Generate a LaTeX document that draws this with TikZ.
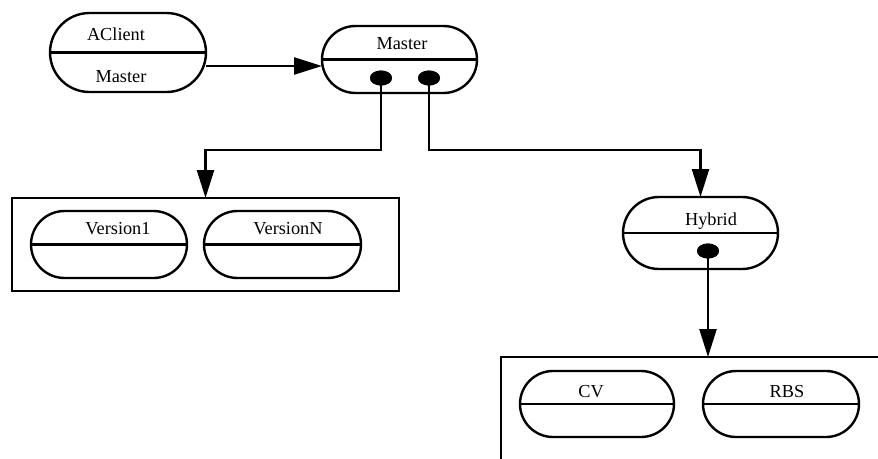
\documentclass[tikz,border=0pt]{standalone}
\usepackage{fontspec}
\setmainfont{Liberation Serif}
\usetikzlibrary{shapes.misc,shapes.geometric,arrows.meta}
\begin{document}
\begin{tikzpicture}[x=1pt,y=-1pt,
  capsule/.style={rounded rectangle, draw, line width=2.4pt, inner sep=0pt, outer sep=0pt},
  lbl/.style={anchor=base, inner sep=0pt, font=\fontsize{18.3}{21}\selectfont},
  port/.style={ellipse, fill=black, inner sep=0pt, outer sep=0pt, minimum width=22pt, minimum height=15pt},
  frame/.style={draw, line width=2.6pt, inner sep=0pt, outer sep=0pt},
  conn/.style={line width=2.4pt, -{Triangle[length=28pt,width=17pt]}},
]
\clip (0,0) rectangle (878,458);

% capsules (upper half holds the name)
\node[capsule, minimum width=156pt, minimum height=79pt] (aclient) at (128,52.5) {};
\node[capsule, minimum width=155pt, minimum height=67pt] (master) at (399.5,59.5) {};
\node[capsule, minimum width=156pt, minimum height=67pt] (v1) at (109,244.5) {};
\node[capsule, minimum width=157pt, minimum height=67pt] (vn) at (282.5,244.5) {};
\node[capsule, minimum width=155pt, minimum height=72pt] (hybrid) at (700.5,233) {};
\node[capsule, minimum width=154pt, minimum height=66pt] (cv) at (597,404) {};
\node[capsule, minimum width=156pt, minimum height=66pt] (rbs) at (781,404) {};
\foreach \n in {aclient,master,v1,vn,hybrid,cv,rbs}
  \draw[line width=2.4pt] (\n.west) -- (\n.east);

% labels
\node[lbl] (aclient-t) at (116,40) {AClient};
\node[lbl] (aclient-b) at (121,82) {Master};
\node[lbl] (master-t) at (402,49) {Master};
\node[lbl] (v1-t) at (118,234) {Version1};
\node[lbl] (vn-t) at (288,234) {VersionN};
\node[lbl] (hybrid-t) at (711,225) {Hybrid};
\node[lbl] (cv-t) at (591,397) {CV};
\node[lbl] (rbs-t) at (787,397) {RBS};

% group frames
\node[frame, minimum width=387pt, minimum height=93pt] (lbox) at (205.5,244.5) {};
\node[frame, minimum width=389pt, minimum height=113pt] (rbox) at (695.5,413.5) {};

% ports
\node[port] (d1) at (381,78) {};
\node[port] (d2) at (429,78) {};
\node[port] (d3) at (708,251) {};
\coordinate (lev) at (0,150);

% connectors
\draw[conn] ([yshift=-13.5pt]aclient.east) -- ([yshift=-6.5pt]master.west);
\draw[conn] (d1.center) -- (d1 |- lev) -| (lbox.north);
\draw[conn] (d2.center) -- (d2 |- lev) -| (hybrid.north);
\draw[conn] (d3.center) -- (d3 |- rbox.north);

% ports on top of their lines
\node[port] at (d1) {};
\node[port] at (d2) {};
\node[port] at (d3) {};
\end{tikzpicture}
\end{document}
